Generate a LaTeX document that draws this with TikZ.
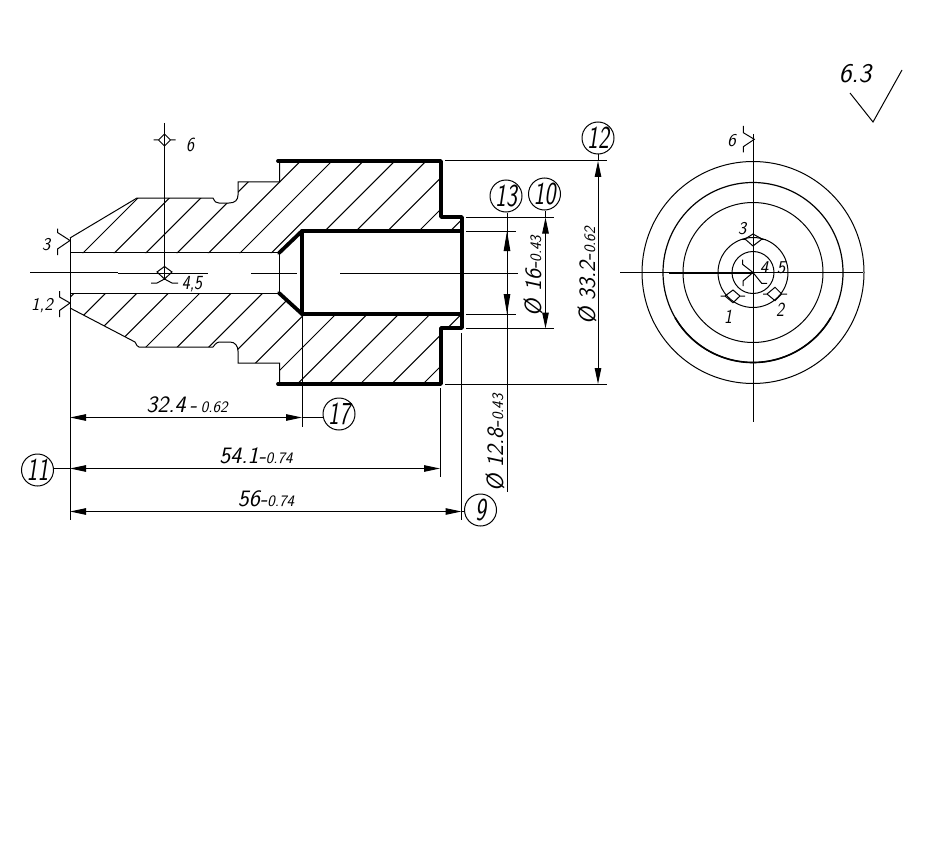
\documentclass[tikz,border=0pt]{standalone}
\usepackage{fontspec}
\usepackage{graphicx}
\usetikzlibrary{arrows.meta}
\setsansfont{Latin Modern Sans}
\tikzset{
  x=1pt,y=-1pt,
  thin line/.style={line width=1pt,black},
  thick line/.style={line width=3.8pt,line cap=round,line join=round,black},
  dimline/.style={thin line,{Triangle[length=16pt,width=6.5pt]}-{Triangle[length=16pt,width=6.5pt]}},
  longdim/.style={thin line,{Triangle[length=20pt,width=6.5pt]}-{Triangle[length=20pt,width=6.5pt]}},
  lab/.style={inner sep=0pt,font=\fontsize{18}{18}\selectfont\sffamily\slshape},
  bigmark/.style={inner sep=0pt,font=\fontsize{20}{20}\selectfont\sffamily\slshape,xscale=.85},
  dimtext/.style={inner sep=0pt,font=\fontsize{23.5}{23.5}\selectfont\sffamily\slshape},
  fintext/.style={inner sep=0pt,font=\fontsize{27}{27}\selectfont\sffamily\slshape},
  balloon/.style={draw,circle,line width=1pt,minimum size=32pt,inner sep=0pt,font=\fontsize{32}{32}\selectfont\sffamily\slshape}
}
\newcommand{\tol}[1]{{\fontsize{16}{16}\selectfont #1}}
\newcommand{\nar}[1]{\scalebox{.72}[1]{#1}}
\newcommand{\roughV}[2]{%
  \draw[thin line] (#1-11,#2)--(#1-6,#2)--(#1,#2-6)--(#1+6,#2)--(#1+11,#2) (#1-6,#2)--(#1,#2+6)--(#1+6,#2);}
\begin{document}
\begin{tikzpicture}
\useasboundingbox (0,0) rectangle (928,861);
% hatching
\begin{scope}
\clip (70,238)--(137,198)--(213,198)--(217,203)--(232,203)--(238,196)--(238,182)--(279.5,182)--(279.5,161)--(441,161)--(441,217)--(462,217)--(462,231)--(302,231)--(279,253)--(70,253)--cycle;
\foreach \k in {0,...,18}{\draw[thin line] ({336+31.4*\k},0)--({336+31.4*\k-400},400);}
\end{scope}
\begin{scope}
\clip (70,293)--(279,293)--(302,314)--(462,314)--(462,328)--(441,328)--(441,384)--(279.5,384)--(279.5,363)--(238,363)--(238,350)--(232,342)--(220,342)--(213,347)--(138,347)--(135,342)--(70,308)--cycle;
\foreach \k in {0,...,22}{\draw[thin line] ({336+31.4*\k},0)--({336+31.4*\k-600},600);}
\end{scope}
% thin outline
\draw[thin line] (70,238)--(137,198)--(213,198)..controls (215,202) and (216,203) .. (219,203)--(229,203)..controls (235,203) and (238,200) .. (238,195)--(238,182)--(279.5,182)--(279.5,161);
\draw[thin line] (70,308)--(135,342)..controls (137,345) and (137,347) .. (139,347)--(213,347)..controls (216,343) and (217,342) .. (221,342)--(230,342)..controls (235,342) and (238,346) .. (238,351)--(238,363)--(279.5,363)--(279.5,384);
\draw[thin line] (70,252.5)--(279,252.5) (70,293)--(279,293) (279,252.5)--(279,293);
% thick outline
\draw[thick line] (278,161)--(441,161)--(441,217)--(462,217)--(462,328)--(441,328)--(441,384)--(278,384);
\draw[thick line] (279,253)--(302,231)--(462,231);
\draw[thick line] (279,293)--(302,314)--(462,314);
\draw[thick line] (302,231)--(302,314);
% centre lines
\draw[thin line] (30,272.5)--(118,272.5);
\draw[thin line] (118,273)--(208,273);
\draw[thin line] (251,273)--(297,273);
\draw[thin line] (340,273)--(518,273);
\draw[thin line] (164.5,123)--(164.5,280);
% extension lines
\draw[thin line] (70,238)--(70,520);
\draw[thin line] (302,314)--(302,427);
\draw[thin line] (440,388)--(440,477);
\draw[thin line] (461.5,333)--(461.5,520);
\draw[thin line] (445,161)--(607,161) (445,384)--(607,384);
\draw[thin line] (466,217.5)--(554,217.5) (466,328.5)--(554,328.5);
\draw[thin line] (466,231)--(516,231) (466,314)--(516,314);
% balloons
\node[balloon] (b12) at (598,138) {\nar{12}};
\node[balloon] (b13) at (506,196) {\nar{13}};
\node[balloon] (b10) at (544.5,194) {\nar{10}};
\node[balloon] (b17) at (339,414) {\nar{17}};
\node[balloon] (b11) at (37.5,470) {\nar{11}};
\node[balloon] (b9) at (480.5,510) {\nar{9}};
% dimensions
\coordinate (a1) at (598,161); \coordinate (a2) at (598,384);
\draw[dimline] (a1)--(a2);
\draw[thin line] (b12)--(a1);
\coordinate (c1) at (545.5,217.5); \coordinate (c2) at (545.5,328.5);
\draw[dimline] (c1)--(c2);
\draw[thin line] (c1 |- b10.south)--(c1);
\coordinate (d1) at (507,231); \coordinate (d2) at (507,314); \coordinate (d3) at (507,492);
\draw[thin line] (d1 |- b13.south)--(d3);
\draw[longdim] (d1)--(d2);
\coordinate (e1) at (70,417.5); \coordinate (e2) at (302,417.5);
\draw[dimline] (e1)--(e2);
\draw[thin line] (e2)--(322.7,417.5);
\coordinate (f1) at (70,468.5); \coordinate (f2) at (440,468.5);
\draw[dimline] (f1)--(f2);
\draw[thin line] (53.5,468.5)--(f1);
\coordinate (g1) at (70,511.5); \coordinate (g2) at (461.5,511.5);
\draw[dimline] (g1)--(g2);
\draw[thin line] (g2)--(464.5,511.5);
\node[dimtext] (t1) at (187,405) {32.4\,-\,\tol{0.62}};
\node[dimtext] (t2) at (256,456) {54.1-\tol{0.74}};
\node[dimtext] (t3) at (266,499) {56-\tol{0.74}};
\node[dimtext,rotate=90] (t4) at (587,276) {Ø 33.2-\tol{0.62}};
\node[dimtext,rotate=90] (t5) at (533,276) {Ø 16-\tol{0.43}};
\node[dimtext,rotate=90] (t6) at (495,443) {Ø 12.8-\tol{0.43}};
% roughness marks, section
\roughV{164.5}{140}
\node[bigmark] (r6) at (190,145) {6};
\draw[thin line] (57.5,228.5)--(57.5,232.5)--(70,240.5)--(57.5,249)--(57.5,255);
\node[lab] (r3) at (46,245) {3};
\draw[thin line] (59.5,291)--(59.5,297)--(70,303)--(59.5,310.5)--(59.5,317);
\node[lab] (r12) at (42,306) {1,2};
\draw[thin line] (157,272)--(164.5,266.5)--(172,272)--(164.5,279)--cycle;
\draw[thin line] (151,283)--(157,283)--(164.5,279)--(172,283)--(178,283);
\node[bigmark] (r45) at (192,284) {4,5};
% right view
\foreach \r in {111,70,35,21}{\draw[thin line] (753,272.5) circle (\r);}
\draw[line width=1.2pt] (753,272.5) circle (90);
\draw[line width=1.6pt] (675,317.5) arc[start angle=150,end angle=30,radius=90];
\draw[thin line] (620,272.5)--(863,272.5);
\draw[line width=2pt] (669,272.5)--(753,272.5);
\draw[thin line] (753,134)--(753,422);
% marks, right view
\draw[thin line] (745,239)--(753,234)--(762,239)--(753,246)--cycle;
\draw[thin line] (741,239)--(745,239) (762,239)--(766,239);
\node[lab] (q3) at (742,229) {3};
\draw[thin line] (720.7,296)--(725,296)--(733,290)--(740,296)--(745,296) (725,296)--(733,302.7)--(740,296);
\node[bigmark] (q1) at (728,317) {1};
\draw[thin line] (763,294)--(767,294)--(775,287.3)--(781.7,294)--(787,294) (767,294)--(775,300.7)--(781.7,294);
\node[bigmark] (q2) at (780,310) {2};
\draw[thin line] (742.5,259.5)--(742.5,264.3)--(753,272.5)--(743,281)--(743,286) (753,272.5)--(761.7,283.3)--(767,283.3);
\node[lab] (q4) at (764,268) {4};
\node[lab] (q5) at (781,268) {5};
\draw[thin line] (743.3,126)--(743.3,132.7)--(754.3,139.3)--(743.3,146.7)--(743.3,152.3);
\node[lab] (q6) at (731.5,141) {6};
% surface finish
\coordinate (v1) at (850,93); \coordinate (v2) at (873,122); \coordinate (v3) at (902,70);
\draw[thin line] (v1)--(v2)--(v3);
\node[fintext] (fin) at (855,74) {6.3};
\end{tikzpicture}
\end{document}
